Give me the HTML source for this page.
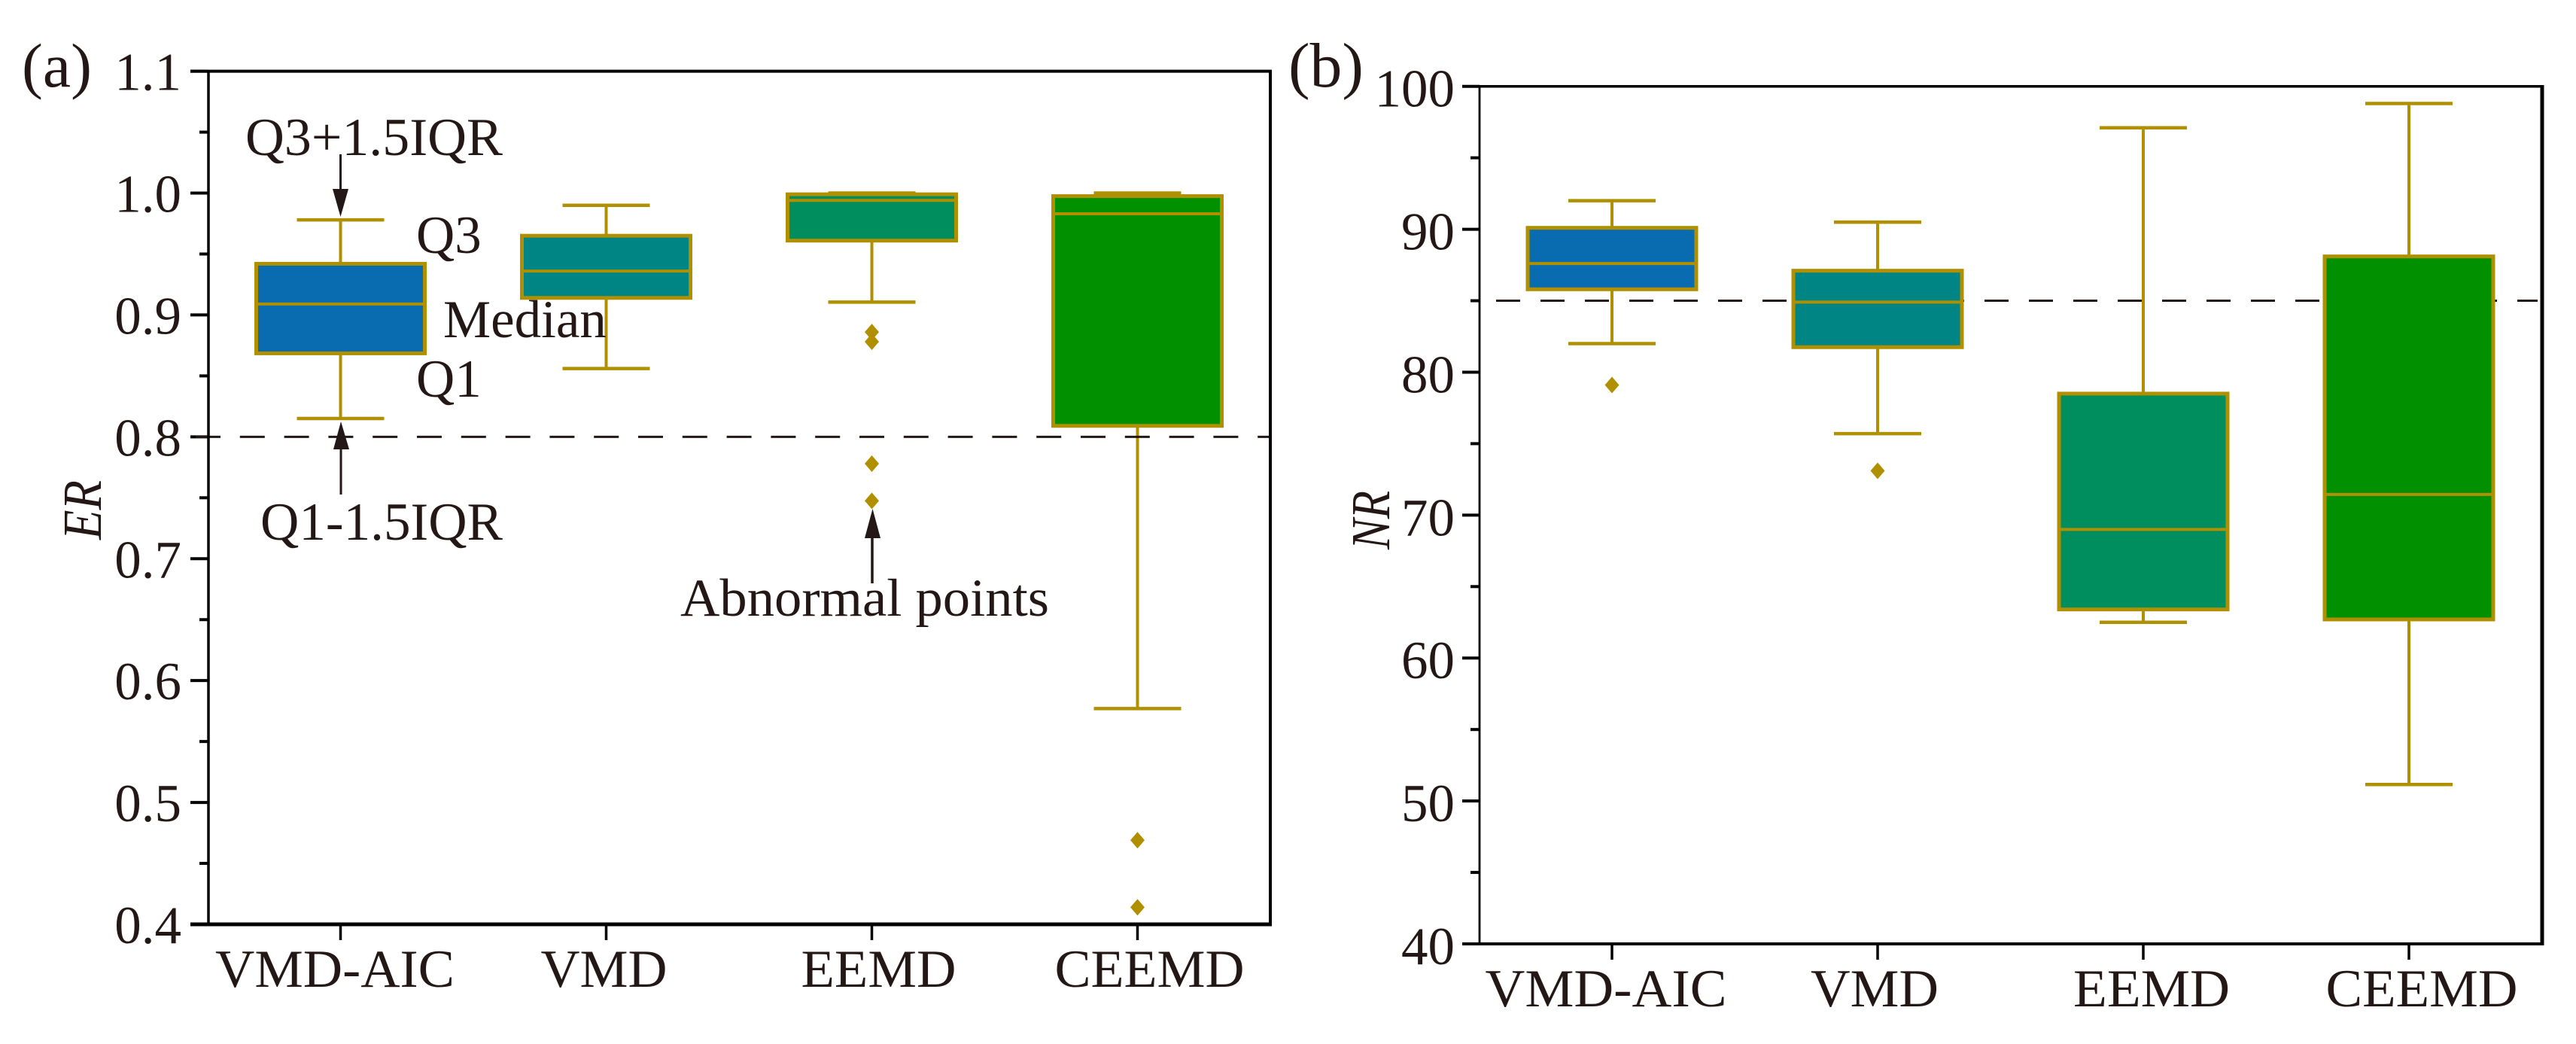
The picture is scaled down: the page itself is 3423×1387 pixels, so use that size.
<!DOCTYPE html>
<html lang="en">
<head>
<meta charset="utf-8">
<title>Box plots of ER and NR by decomposition method</title>
<style>
html,body{margin:0;padding:0;background:#fff;width:3423px;height:1387px;overflow:hidden}
svg{display:block}
text{font-family:"Liberation Serif","Times New Roman",serif;fill:#231815;font-size:71px}
.ax{stroke:#000;fill:none}
.wh{stroke:#b09000;fill:none}
</style>
</head>
<body>
<svg id="figure" xmlns="http://www.w3.org/2000/svg" width="3423" height="1387" viewBox="0 0 3423 1387">
  <rect x="0" y="0" width="3423" height="1387" fill="#fff"/>
  <g id="plots"></g>
  <g id="annotations">
    <text x="29" y="115" style="font-size:83px" textLength="93" lengthAdjust="spacingAndGlyphs">(a)</text>
    <text x="1712" y="115" style="font-size:84px" textLength="100" lengthAdjust="spacingAndGlyphs">(b)</text>
    <text transform="translate(134 717) rotate(-90)" style="font-size:73px;font-style:italic" textLength="79" lengthAdjust="spacingAndGlyphs">ER</text>
    <text transform="translate(1846 730) rotate(-90)" style="font-size:73px;font-style:italic" textLength="78" lengthAdjust="spacingAndGlyphs">NR</text>
    <text x="326" y="206" textLength="342" lengthAdjust="spacingAndGlyphs">Q3+1.5IQR</text>
    <text x="553" y="336">Q3</text>
    <text x="589" y="448">Median</text>
    <text x="553" y="527">Q1</text>
    <text x="346" y="717" textLength="322" lengthAdjust="spacingAndGlyphs">Q1-1.5IQR</text>
    <text x="904" y="818" textLength="490" lengthAdjust="spacingAndGlyphs">Abnormal points</text>
    <g>
      <line x1="452.5" y1="205" x2="452.5" y2="255" stroke="#231815" stroke-width="3"/>
      <polygon points="442,251 463,251 452.5,288" fill="#231815"/>
    </g>
    <g>
      <line x1="453" y1="657" x2="453" y2="595" stroke="#231815" stroke-width="3"/>
      <polygon points="443,597 464,597 453,560" fill="#231815"/>
    </g>
    <g>
      <line x1="1159" y1="775" x2="1159" y2="712" stroke="#231815" stroke-width="3.5"/>
      <polygon points="1149,715 1170,715 1159.5,676" fill="#231815"/>
    </g>
  </g>
</svg>
<script>
// ---- data ----
const categories = ['VMD-AIC', 'VMD', 'EEMD', 'CEEMD'];

const erUpperWhisker = [0.978, 0.990, 1.000, 1.000];
const erQ3 = [0.942, 0.965, 0.999, 0.9975];
const erMedian = [0.909, 0.936, 0.994, 0.983];
const erQ1 = [0.8685, 0.914, 0.961, 0.809];
const erLowerWhisker = [0.815, 0.856, 0.9105, 0.577];
const erOutliers = [[], [], [0.886, 0.878, 0.778, 0.7475], [0.469, 0.414]];
const erTicks = [0.4, 0.5, 0.6, 0.7, 0.8, 0.9, 1.0, 1.1];
const erTickLabels = ['0.4', '0.5', '0.6', '0.7', '0.8', '0.9', '1.0', '1.1'];
const erThreshold = 0.8;

const nrUpperWhisker = [92.0, 90.5, 97.1, 98.8];
const nrQ3 = [90.1, 87.1, 78.5, 88.1];
const nrMedian = [87.6, 84.9, 69.0, 71.45];
const nrQ1 = [85.8, 81.75, 63.4, 62.7];
const nrLowerWhisker = [82.0, 75.7, 62.5, 51.15];
const nrOutliers = [[79.1], [73.1], [], []];
const nrTicks = [40, 50, 60, 70, 80, 90, 100];
const nrTickLabels = ['40', '50', '60', '70', '80', '90', '100'];
const nrThreshold = 85;

// ---- layout (not data) ----
const boxFills = ['#0a6cb0', '#008585', '#008e5e', '#009000'];
const layoutA = {
  id: 'a', left: 277, right: 1688, top: 94.6, bottom: 1228,
  yMin: 0.4, yMax: 1.1, firstCat: 452.5, catStep: 353,
  boxHalf: 112, capHalf: 58, majorLeft: 253, minorLeft: 265, tickBottom: 1249,
  labelRight: 241, labelDy: 25, xLabelY: 1311, xLabelNudge: [-7.5, -3, 9, 16], xLabelWidth: [318, 168, 206, 252],
  dashStart: 260, dashEnd: 1686, dash: '33 25.8', dashOnTop: true,
  widths: {top: 4, left: 3.5, right: 4, bottom: 5}
};
const layoutB = {
  id: 'b', left: 1966, right: 3378, top: 114.7, bottom: 1254,
  yMin: 40, yMax: 100, firstCat: 2142, catStep: 353,
  boxHalf: 112, capHalf: 58, majorLeft: 1943, minorLeft: 1954, tickBottom: 1275,
  labelRight: 1933, labelDy: 27, xLabelY: 1337, xLabelNudge: [-8, -4, 11, 17], xLabelWidth: [321, 170, 208, 255],
  dashStart: 1988, dashEnd: 3372, dash: '32 27', dashOnTop: false,
  widths: {top: 3.5, left: 2.8, right: 5, bottom: 4}
};

const SVGNS = 'http://www.w3.org/2000/svg';
function make(tag, attrs, parent) {
  const node = document.createElementNS(SVGNS, tag);
  for (const k in attrs) node.setAttribute(k, attrs[k]);
  parent.appendChild(node);
  return node;
}

function drawPanel(L, s) {
  const y = function (v) { return L.bottom - (v - L.yMin) / (L.yMax - L.yMin) * (L.bottom - L.top); };
  const x = function (i) { return L.firstCat + i * L.catStep; };

  const panel = make('g', {}, document.getElementById('plots'));
  
  

  function drawThreshold() {
    const dashLine = make('line', {x1: L.dashStart, x2: L.dashEnd, y1: y(s.threshold), y2: y(s.threshold), stroke: '#231815', 'stroke-width': 3, 'stroke-dasharray': L.dash}, panel);
    
    
  }
  if (!L.dashOnTop) drawThreshold();

  // y ticks and labels
  s.ticks.forEach(function (t, i) {
    const major = make('line', {class: 'ax', x1: L.majorLeft, x2: L.left, y1: y(t), y2: y(t), 'stroke-width': 4}, panel);
    
    
    const label = make('text', {x: L.labelRight, y: y(t) + L.labelDy, 'text-anchor': 'end'}, panel);
    label.textContent = s.tickLabels[i];
    
    
    if (i < s.ticks.length - 1) {
      const mid = (t + s.ticks[i + 1]) / 2;
      const minor = make('line', {class: 'ax', x1: L.minorLeft, x2: L.left, y1: y(mid), y2: y(mid), 'stroke-width': 4}, panel);
      
      
    }
  });

  // boxes
  categories.forEach(function (cat, i) {
    const cx = x(i);
    const g = make('g', {}, panel);
    
    

    const stem = make('line', {class: 'wh', x1: cx, x2: cx, y1: y(s.upper[i]), y2: y(s.lower[i]), 'stroke-width': 4}, g);
    
    

    const capHigh = make('line', {class: 'wh', x1: cx - L.capHalf, x2: cx + L.capHalf, y1: y(s.upper[i]), y2: y(s.upper[i]), 'stroke-width': 4.5}, g);
    
    

    const capLow = make('line', {class: 'wh', x1: cx - L.capHalf, x2: cx + L.capHalf, y1: y(s.lower[i]), y2: y(s.lower[i]), 'stroke-width': 4.5}, g);
    
    

    const box = make('rect', {x: cx - L.boxHalf, width: 2 * L.boxHalf, y: y(s.q3[i]), height: y(s.q1[i]) - y(s.q3[i]), fill: boxFills[i], stroke: '#b09000', 'stroke-width': 5}, g);
    
    

    const med = make('line', {class: 'wh', x1: cx - L.boxHalf, x2: cx + L.boxHalf, y1: y(s.median[i]), y2: y(s.median[i]), 'stroke-width': 4}, g);
    
    

    s.outliers[i].forEach(function (v) {
      const py = y(v);
      const pt = make('polygon', {points: (cx - 9.5) + ',' + py + ' ' + cx + ',' + (py - 11) + ' ' + (cx + 9.5) + ',' + py + ' ' + cx + ',' + (py + 11), fill: '#b09000'}, g);
      
      
    });

    const xt = make('line', {class: 'ax', x1: cx, x2: cx, y1: L.bottom, y2: L.tickBottom, 'stroke-width': 3.5}, panel);
    
    

    const xl = make('text', {x: cx + L.xLabelNudge[i], y: L.xLabelY, 'text-anchor': 'middle', textLength: L.xLabelWidth[i], lengthAdjust: 'spacingAndGlyphs'}, panel);
    xl.textContent = cat;
    
    
  });

  if (L.dashOnTop) drawThreshold();

  // axis frame
  const half = L.widths.right / 2;
  const topLine = make('line', {class: 'ax', x1: L.majorLeft, x2: L.right + half, y1: L.top, y2: L.top, 'stroke-width': L.widths.top}, panel);
  
  

  const bottomLine = make('line', {class: 'ax', x1: L.majorLeft, x2: L.right + half, y1: L.bottom, y2: L.bottom, 'stroke-width': L.widths.bottom}, panel);
  
  

  const leftLine = make('line', {class: 'ax', x1: L.left, x2: L.left, y1: L.top, y2: L.bottom, 'stroke-width': L.widths.left}, panel);
  
  

  const rightLine = make('line', {class: 'ax', x1: L.right, x2: L.right, y1: L.top, y2: L.bottom, 'stroke-width': L.widths.right}, panel);
  
  
}

drawPanel(layoutA, {upper: erUpperWhisker, q3: erQ3, median: erMedian, q1: erQ1, lower: erLowerWhisker, outliers: erOutliers, ticks: erTicks, tickLabels: erTickLabels, threshold: erThreshold});
drawPanel(layoutB, {upper: nrUpperWhisker, q3: nrQ3, median: nrMedian, q1: nrQ1, lower: nrLowerWhisker, outliers: nrOutliers, ticks: nrTicks, tickLabels: nrTickLabels, threshold: nrThreshold});
</script>
</body>
</html>
